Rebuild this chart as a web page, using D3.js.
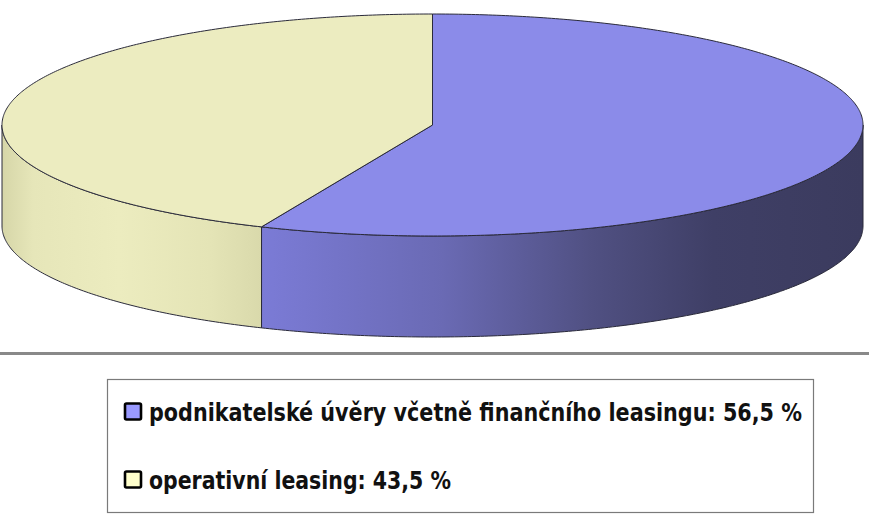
<!DOCTYPE html>
<html>
<head>
<meta charset="utf-8">
<script src="https://cdn.jsdelivr.net/npm/d3@7"></script>
<style>
  body { margin: 0; background: #fff; }
  svg { display: block; }
</style>
</head>
<body>
<svg id="chart" width="869" height="522"></svg>
<script>
// data
const categories = ['podnikatelské úvěry včetně finančního leasingu', 'operativní leasing'];
const shares = [56.5, 43.5];
const labels = ['podnikatelské úvěry včetně finančního leasingu: 56,5 %', 'operativní leasing: 43,5 %'];

const topColors = ['#8b8be9', '#ececc0'];
const markerColors = ['#9999ff', '#ffffcc'];

const svg = d3.select('#chart');
const W = 869, H = 522;

// ellipse geometry
const cx = 432.5, cy = 125, rx = 430.5, ry = 111, depth = 101;

const pie = d3.pie().sort(null).value(d => d)(shares);

// point on top ellipse for angle t (0 = 12 o'clock, clockwise)
const pt = (t, dy = 0) => [cx + rx * Math.sin(t), cy - ry * Math.cos(t) + dy];
const line = d3.line();

const defs = svg.append('defs');

const blueGrad = defs.append('linearGradient')
  .attr('id', 'sideBlue').attr('gradientUnits', 'userSpaceOnUse')
  .attr('x1', 262).attr('x2', 863).attr('y1', 0).attr('y2', 0);
[[0, '#7b7bd6'], [0.3, '#6a6ab4'], [0.55, '#505082'], [0.75, '#3f3f66'], [1, '#3b3b5e']]
  .forEach(s => blueGrad.append('stop').attr('offset', s[0]).attr('stop-color', s[1]));

const yelGrad = defs.append('linearGradient')
  .attr('id', 'sideYel').attr('gradientUnits', 'userSpaceOnUse')
  .attr('x1', 2).attr('x2', 262).attr('y1', 0).attr('y2', 0);
[[0, '#d6d6a8'], [0.12, '#e6e6b9'], [0.45, '#ececbf'], [0.8, '#e4e4b6'], [1, '#d9d9ab']]
  .forEach(s => yelGrad.append('stop').attr('offset', s[0]).attr('stop-color', s[1]));

const sideFill = ['url(#sideBlue)', 'url(#sideYel)'];

const arcPts = (a0, a1, dy) => {
  const n = Math.max(2, Math.ceil((a1 - a0) / 0.01));
  return d3.range(n + 1).map(i => pt(a0 + (a1 - a0) * i / n, dy));
};

// front walls (visible only between 90° and 270°)
const lo = Math.PI / 2, hi = 3 * Math.PI / 2;
pie.forEach((p, i) => {
  const a0 = Math.max(p.startAngle, lo), a1 = Math.min(p.endAngle, hi);
  if (a1 <= a0) return;
  const pts = arcPts(a0, a1, 0).concat(arcPts(a0, a1, depth).reverse());
  svg.append('path')
    .attr('d', line(pts) + 'Z')
    .attr('fill', sideFill[i])
    .attr('stroke', '#2a2a3a')
    .attr('stroke-width', 1)
    .attr('stroke-linejoin', 'round');
});

// top faces
pie.forEach((p, i) => {
  const pts = [[cx, cy]].concat(arcPts(p.startAngle, p.endAngle, 0));
  svg.append('path')
    .attr('d', line(pts) + 'Z')
    .attr('fill', topColors[i])
    .attr('stroke', '#2a2a3a')
    .attr('stroke-width', 1)
    .attr('stroke-linejoin', 'round');
});

// separator line
svg.append('line')
  .attr('x1', 0).attr('x2', W).attr('y1', 353.5).attr('y2', 353.5)
  .attr('stroke', '#898989').attr('stroke-width', 3);

// legend
const legend = svg.append('g');
legend.append('rect')
  .attr('x', 107.5).attr('y', 379.5).attr('width', 706).attr('height', 133)
  .attr('fill', '#fff').attr('stroke', '#7a7a7a').attr('stroke-width', 1.2);

const rowY = d3.scalePoint().domain(categories).range([412, 480]);
const textLen = [653, 302];

categories.forEach((c, i) => {
  const y = rowY(c);
  legend.append('rect')
    .attr('x', 125).attr('y', y - 8.5).attr('width', 16).attr('height', 16)
    .attr('rx', 1.5)
    .attr('fill', markerColors[i]).attr('stroke', '#000').attr('stroke-width', 2.6);
  legend.append('text')
    .attr('x', 149).attr('y', y + 9)
    .attr('font-family', "'Liberation Sans Narrow', 'DejaVu Sans Condensed', 'Open Sans', sans-serif")
    .attr('font-weight', 'bold')
    .attr('font-size', 25)
    .attr('fill', '#111')
    .attr('textLength', textLen[i])
    .attr('lengthAdjust', 'spacingAndGlyphs')
    .text(labels[i]);
});
</script>
</body>
</html>
